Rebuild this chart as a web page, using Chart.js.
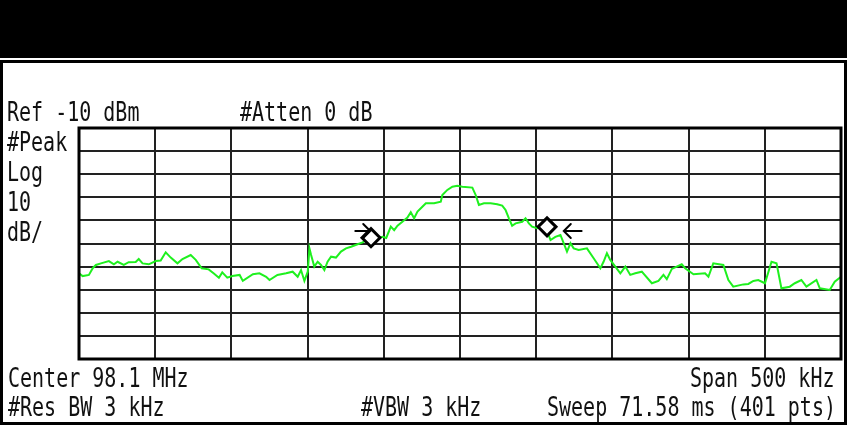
<!DOCTYPE html>
<html>
<head>
<meta charset="utf-8">
<script src="https://cdn.jsdelivr.net/npm/chart.js@4.4.1/dist/chart.umd.min.js"></script>
<style>
  html, body { margin: 0; padding: 0; background: #fff; }
  body { width: 847px; height: 428px; position: relative; overflow: hidden; }
  #header { position: absolute; left: 0; top: 0; width: 847px; height: 58px; background: #000; }
  #panel { position: absolute; left: 0; top: 60px; width: 841px; height: 359px; border: 3px solid #000; background: #fff; }
  #c { position: absolute; left: 0; top: 0; }
  .lbl { position: absolute; font-family: "DejaVu Sans Mono", monospace; font-size: 20px;
         line-height: 20px; color: #111; white-space: pre; transform-origin: 0 0; }
</style>
</head>
<body>
<div id="header"></div>
<div id="panel"></div>
<canvas id="c" width="853" height="428"></canvas>
<div id="labels"></div>
<script>
// trace: offset from centre (kHz) and level (dBm)
var freqOffsetKHz = [
  -250, -247.6, -243.5, -241.0, -238.9, -235.6, -230.4, -227.1, -224.7, -220.6,
  -217.4, -212.8, -210.8, -208.3, -204.2, -199.6, -196.4, -193.1, -189.8, -185.4,
  -182.1, -176.7, -173.4, -169.5, -164.9, -161.7, -158.2, -156.0, -152.7, -149.4,
  -144.6, -142.5, -135.9, -131.6, -127.2, -125.0, -119.8, -114.1, -109.8, -106.5,
  -104.3, -102.1, -99.9, -98.8, -97.7, -95.6, -93.4, -91.2, -89.0, -86.9,
  -84.6, -81.4, -78.1, -74.8, -71.5, -67.2, -63.9, -59.6, -55.2, -50.8,
  -48.4, -45.4, -43.2, -41.0, -37.8, -34.5, -32.3, -30.1, -27.9, -24.7,
  -22.4, -17.0, -12.6, -11.6, -8.3, -5.0, -1.8, 1.5, 8.1, 10.3,
  12.4, 15.7, 20.1, 24.4, 27.7, 29.9, 32.1, 34.2, 36.5, 40.8,
  43.0, 45.2, 47.3, 50.6, 53.7, 56.9, 59.4, 62.6, 65.9, 68.1,
  70.2, 72.5, 74.6, 77.9, 83.3, 87.7, 92.1, 94.2, 96.4, 98.6,
  101.9, 105.2, 108.5, 111.7, 115.0, 119.3, 125.9, 130.2, 133.5, 135.7,
  139.0, 145.5, 147.7, 153.2, 160.8, 163.0, 166.2, 172.8, 176.1, 179.3,
  185.9, 189.2, 192.5, 195.7, 200.1, 204.4, 207.7, 210.9, 216.4, 219.7,
  224.0, 227.3, 233.9, 236.1, 242.6, 245.9, 250
];
var levelDbm = [
  -72.9, -74.1, -73.6, -70.7, -69.3, -68.6, -67.6, -69.0, -67.9, -69.3,
  -68.1, -68.0, -66.7, -68.6, -69.0, -67.6, -67.4, -63.8, -66.1, -68.6,
  -66.7, -65.0, -67.1, -70.7, -71.2, -72.9, -74.8, -72.5, -74.8, -74.1,
  -73.6, -76.2, -73.3, -72.9, -74.4, -75.8, -73.6, -72.9, -72.2, -74.4,
  -71.5, -76.2, -72.2, -62.1, -65.0, -70.0, -67.9, -69.3, -71.5, -67.9,
  -65.7, -66.1, -63.5, -62.1, -61.4, -60.3, -59.5, -57.7, -57.7, -57.1,
  -57.6, -52.7, -54.2, -52.3, -50.6, -48.8, -46.5, -49.1, -46.2, -44.1,
  -42.6, -42.6, -41.9, -39.0, -36.8, -35.4, -35.0, -35.4, -35.8, -39.0,
  -43.3, -42.6, -42.6, -43.0, -43.6, -45.5, -49.1, -52.3, -51.3, -50.6,
  -49.1, -51.3, -52.7, -53.4, -52.2, -54.2, -58.5, -57.1, -56.3, -59.9,
  -63.5, -59.9, -62.1, -62.8, -62.1, -66.4, -70.7, -67.9, -64.2, -67.1,
  -70.0, -72.9, -70.0, -73.6, -72.9, -72.2, -77.2, -76.2, -73.6, -75.4,
  -71.0, -69.0, -70.7, -73.3, -72.9, -74.4, -68.6, -69.3, -75.8, -78.7,
  -77.7, -77.5, -76.2, -75.8, -77.2, -67.9, -68.6, -79.4, -78.7, -77.2,
  -75.8, -78.7, -75.8, -79.4, -80.1, -76.5, -74.4
];

// markers (diamonds) and their arrows
var markerKHz = [-58.4, 57.1];
var markerDbm = [-57.5, -52.8];
var arrowTailKHz = [-68.7, 79.8];
var arrowTipKHz = [-58.9, 68.1];
var arrowDbm = [-54.6, -54.6];

// screen annotations
var labels = [
  { t: 'Ref -10 dBm', x: 7, b: 120.5 },
  { t: '#Atten 0 dB', x: 240, b: 120.5 },
  { t: '#Peak', x: 7, b: 150.5 },
  { t: 'Log', x: 7, b: 180.5 },
  { t: '10', x: 7, b: 210.5 },
  { t: 'dB/', x: 7, b: 240.5 },
  { t: 'Center 98.1 MHz', x: 8, b: 386.5 },
  { t: 'Span 500 kHz', x: 690, b: 386.5 },
  { t: '#Res BW 3 kHz', x: 8, b: 415.5 },
  { t: '#VBW 3 kHz', x: 361, b: 415.5 },
  { t: 'Sweep 71.58 ms (401 pts)', x: 547, b: 415.5 }
];

var box = document.getElementById('labels');
labels.forEach(function (l) {
  var s = 1.3;
  var d = document.createElement('div');
  d.className = 'lbl';
  d.textContent = l.t;
  d.style.left = l.x + 'px';
  d.style.top = (l.b - 16.6 * s) + 'px';
  d.style.transform = 'scaleY(' + s + ')';
  box.appendChild(d);
});

var tracePoints = freqOffsetKHz.map(function (f, i) { return { x: f, y: levelDbm[i] }; });
var markerPoints = markerKHz.map(function (f, i) { return { x: f, y: markerDbm[i] }; });

var framePlugin = {
  id: 'frame',
  afterDatasetsDraw: function (chart) {
    var ctx = chart.ctx, xs = chart.scales.x, ys = chart.scales.y;
    ctx.save();
    ctx.strokeStyle = '#000';
    ctx.lineWidth = 2;
    ctx.lineCap = 'round';
    for (var i = 0; i < arrowTipKHz.length; i++) {
      var x0 = xs.getPixelForValue(arrowTailKHz[i]);
      var x1 = xs.getPixelForValue(arrowTipKHz[i]);
      var y = ys.getPixelForValue(arrowDbm[i]);
      var dir = x1 > x0 ? 1 : -1;
      ctx.beginPath();
      ctx.moveTo(x0, y);
      ctx.lineTo(x1, y);
      ctx.moveTo(x1 - dir * 7, y - 7);
      ctx.lineTo(x1, y);
      ctx.lineTo(x1 - dir * 7, y + 7);
      ctx.stroke();
    }
    ctx.restore();
  },
  afterDraw: function (chart) {
    var a = chart.chartArea, ctx = chart.ctx;
    ctx.save();
    ctx.strokeStyle = '#000';
    ctx.lineWidth = 3;
    ctx.strokeRect(a.left, a.top, a.right - a.left, a.bottom - a.top);
    ctx.restore();
  }
};

new Chart(document.getElementById('c'), {
  type: 'line',
  data: {
    datasets: [
      {
        data: markerPoints,
        showLine: false,
        pointStyle: 'rectRot',
        pointRadius: 9,
        pointBorderWidth: 3,
        pointBorderColor: '#000',
        pointBackgroundColor: '#fff'
      },
      {
        data: tracePoints,
        borderColor: '#1ef01e',
        borderWidth: 2,
        pointRadius: 0,
        tension: 0,
        fill: false
      }
    ]
  },
  options: {
    responsive: false,
    animation: false,
    layout: { padding: { left: 79, top: 128, right: 4, bottom: 69 } },
    plugins: { legend: { display: false }, tooltip: { enabled: false } },
    scales: {
      x: {
        type: 'linear', min: -250, max: 250,
        ticks: { display: false, stepSize: 50 },
        grid: { color: '#222', lineWidth: 2, drawTicks: false },
        border: { display: false }
      },
      y: {
        min: -110, max: -10,
        ticks: { display: false, stepSize: 10 },
        grid: { color: '#222', lineWidth: 2, drawTicks: false },
        border: { display: false }
      }
    }
  },
  plugins: [framePlugin]
});
</script>
</body>
</html>
